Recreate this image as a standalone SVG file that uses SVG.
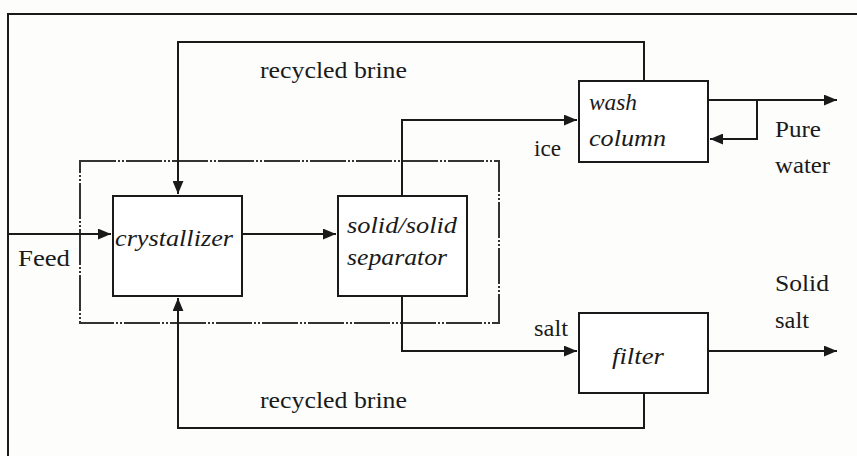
<svg xmlns="http://www.w3.org/2000/svg" width="857" height="456" viewBox="0 0 857 456">
<style>
.box{fill:#fff;stroke:#1a1a1a;stroke-width:2}
.ln{fill:none;stroke:#1a1a1a;stroke-width:2}
text{font-size:24px;fill:#1a1a1a}
.i{font-style:italic}
</style>
<defs>
<marker id="ah" viewBox="0 0 12 10" refX="12" refY="5" markerWidth="13" markerHeight="11" markerUnits="userSpaceOnUse" orient="auto">
<path d="M0,0 L12,5 L0,10 z" fill="#1a1a1a"/>
</marker>
</defs>
<rect x="0" y="0" width="857" height="456" fill="#fdfdfc"/>
<path class="ln" d="M8,456 V14 H857"/>
<g id="enclosure">
<rect x="80" y="161" width="419" height="162" fill="none" stroke="#333" stroke-width="2" stroke-dasharray="36 2 2 2 2 2"/>
</g>
<g id="connectors">
<path class="ln" d="M644,81 V42 H178 V194" marker-end="url(#ah)"/>
<path class="ln" d="M8,234 H111" marker-end="url(#ah)"/>
<path class="ln" d="M242,234 H336" marker-end="url(#ah)"/>
<path class="ln" d="M402,196 V120 H577" marker-end="url(#ah)"/>
<path class="ln" d="M708,100 H837" marker-end="url(#ah)"/>
<path class="ln" d="M757,100 V139 H710" marker-end="url(#ah)"/>
<path class="ln" d="M402,296 V351 H577" marker-end="url(#ah)"/>
<path class="ln" d="M708,351 H837" marker-end="url(#ah)"/>
<path class="ln" d="M644,393 V428 H178 V298" marker-end="url(#ah)"/>
</g>
<g font-family="Liberation Serif, serif">
<g id="crystallizer">
<rect class="box" x="113" y="196" width="129" height="100"/>
<text class="i" x="115" y="246" textLength="118" lengthAdjust="spacingAndGlyphs">crystallizer</text>
</g>
<g id="separator">
<rect class="box" x="338" y="196" width="129" height="100"/>
<text class="i" x="347" y="233" textLength="110" lengthAdjust="spacingAndGlyphs">solid/solid</text>
<text class="i" x="347" y="265" textLength="100" lengthAdjust="spacingAndGlyphs">separator</text>
</g>
<g id="wash-column">
<rect class="box" x="579" y="81" width="129" height="81"/>
<text class="i" x="589" y="110" textLength="48" lengthAdjust="spacingAndGlyphs">wash</text>
<text class="i" x="589" y="146" textLength="77" lengthAdjust="spacingAndGlyphs">column</text>
</g>
<g id="filter">
<rect class="box" x="579" y="313" width="129" height="80"/>
<text class="i" x="612" y="364" textLength="52" lengthAdjust="spacingAndGlyphs">filter</text>
</g>
<g id="labels">
<text x="260" y="78" textLength="147" lengthAdjust="spacingAndGlyphs">recycled brine</text>
<text x="260" y="408" textLength="147" lengthAdjust="spacingAndGlyphs">recycled brine</text>
<text x="18" y="266" textLength="52" lengthAdjust="spacingAndGlyphs">Feed</text>
<text x="534" y="156" textLength="27" lengthAdjust="spacingAndGlyphs">ice</text>
<text x="534" y="336" textLength="34" lengthAdjust="spacingAndGlyphs">salt</text>
<text x="775" y="137" textLength="46" lengthAdjust="spacingAndGlyphs">Pure</text>
<text x="775" y="173" textLength="55" lengthAdjust="spacingAndGlyphs">water</text>
<text x="775" y="291" textLength="54" lengthAdjust="spacingAndGlyphs">Solid</text>
<text x="775" y="328" textLength="34" lengthAdjust="spacingAndGlyphs">salt</text>
</g>
</g>
</svg>
